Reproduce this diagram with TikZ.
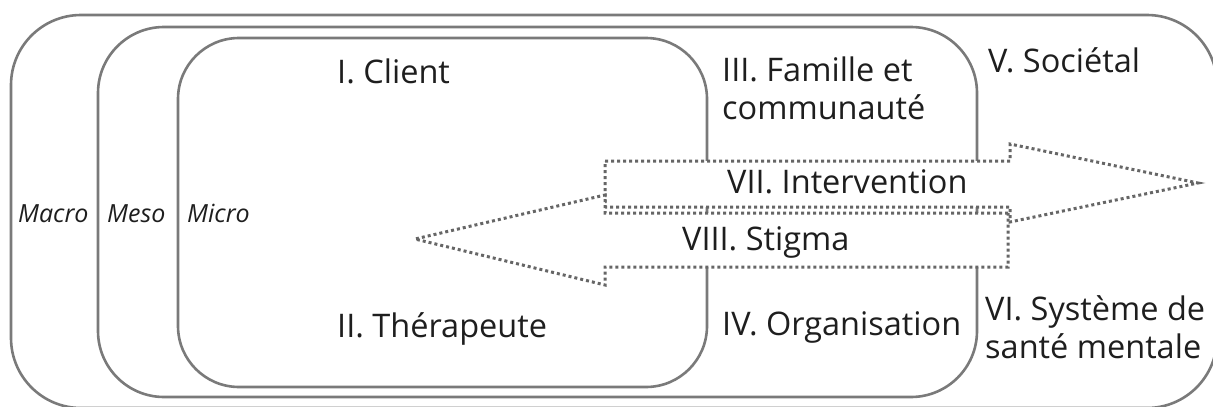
\documentclass[tikz,border=0pt]{standalone}
\usepackage{fontspec}
\setmainfont{Open Sans}
\definecolor{frame}{HTML}{7A7A7A}
\definecolor{dots}{HTML}{666666}
\definecolor{ink}{HTML}{1E1E1E}
\tikzset{
  level/.style={draw=frame, line width=2.6pt},
  flow/.style={draw=dots, fill=white, line width=3pt, dash pattern=on 3pt off 3pt, line join=miter},
  label/.style={anchor=base west, inner sep=0pt, text=ink, font=\fontsize{32.5}{38}\selectfont},
  tier/.style={anchor=base west, inner sep=0pt, text=ink, font=\fontsize{25}{30}\selectfont\itshape},
}
\begin{document}
\begin{tikzpicture}[x=1pt,y=-1pt]
\useasboundingbox (0,0) rectangle (1213,407);
\clip (0,0) rectangle (1213,407);
% nested levels
\draw[level, rounded corners=70pt] (11,15) rectangle (1217,408);
\draw[level, rounded corners=66pt] (98,27) rectangle (977,397);
\draw[level, rounded corners=61pt] (178,38) rectangle (707,387);
% intervention arrow (towards the societal level)
\draw[flow] (605,161) -- (1010,161) -- (1010,144) -- (1198,183) -- (1010,222) -- (1010,207) -- (605,207) -- cycle;
% stigma arrow (towards the client)
\draw[flow] (1008,213) -- (605,213) -- (605,195) -- (415,239) -- (605,285) -- (605,267) -- (1008,267) -- cycle;
% level names
\node[tier] (macro) at (18,222) {Macro};
\node[tier] (meso) at (107,222) {Meso};
\node[tier] (micro) at (187,222) {Micro};
% region labels
\node[label] (client) at (337,83) {I. Client};
\node[label] (therapeute) at (337,337) {II. Thérapeute};
\node[label] (famille) at (722,81) {III. Famille et};
\node[label] (communaute) at (722,119) {communauté};
\node[label] (organisation) at (722,335) {IV. Organisation};
\node[label] (societal) at (988,72) {V. Sociétal};
\node[label] (systeme) at (985,320) {VI. Système de};
\node[label] (sante) at (985,358) {santé mentale};
\node[label] (intervention) at (727,193) {VII. Intervention};
\node[label] (stigma) at (682,250) {VIII. Stigma};
\end{tikzpicture}
\end{document}
